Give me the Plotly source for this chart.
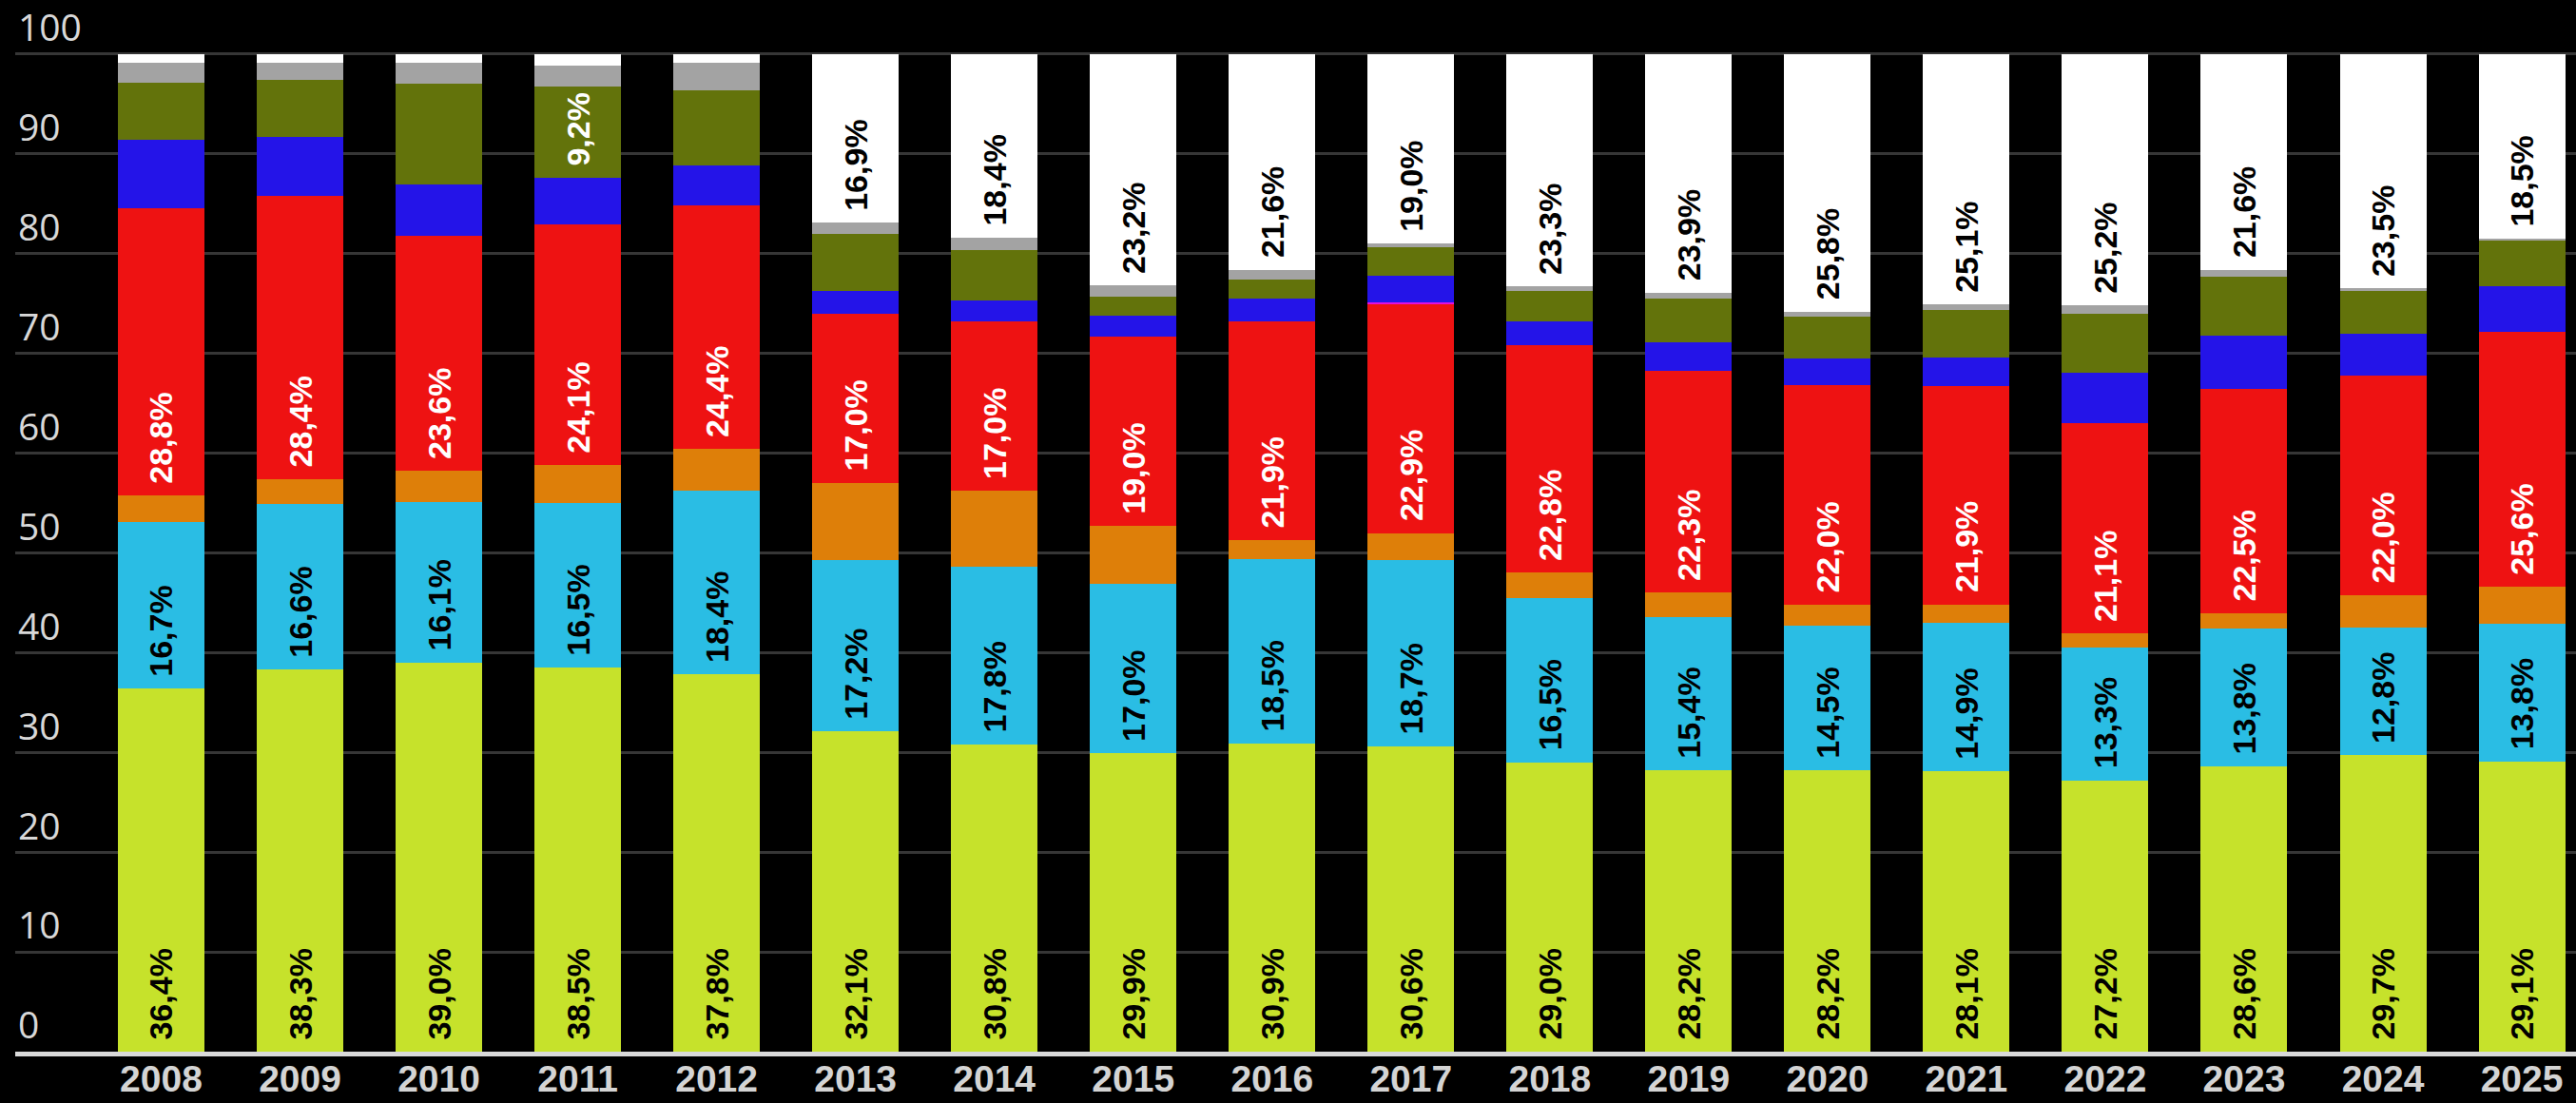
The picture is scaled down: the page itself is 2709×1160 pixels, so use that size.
import plotly.graph_objects as go

years = [str(y) for y in range(2008, 2026)]

yellow = [36.4, 38.3, 39.0, 38.5, 37.8, 32.1, 30.8, 29.9, 30.9, 30.6, 29.0, 28.2, 28.2, 28.1, 27.2, 28.6, 29.7, 29.1]
cyan = [16.7, 16.6, 16.1, 16.5, 18.4, 17.2, 17.8, 17.0, 18.5, 18.7, 16.5, 15.4, 14.5, 14.9, 13.3, 13.8, 12.8, 13.8]
orange = [2.65, 2.5, 3.1, 3.8, 4.2, 7.7, 7.6, 5.8, 1.9, 2.7, 2.5, 2.4, 2.1, 1.85, 1.4, 1.55, 3.25, 3.7]
red = [28.8, 28.4, 23.6, 24.1, 24.4, 17.0, 17.0, 19.0, 21.9, 22.9, 22.8, 22.3, 22.0, 21.9, 21.1, 22.5, 22.0, 25.6]
magenta = [0, 0, 0, 0, 0, 0, 0, 0, 0, 0.2, 0, 0, 0, 0, 0, 0, 0, 0]
blue = [6.85, 5.9, 5.1, 4.7, 4.0, 2.3, 2.1, 2.1, 2.3, 2.65, 2.45, 2.85, 2.65, 2.85, 5.1, 5.3, 4.2, 4.55]
olive = [5.7, 5.7, 10.1, 9.2, 7.6, 5.7, 5.1, 1.9, 1.9, 2.85, 3.05, 4.35, 4.2, 4.75, 5.9, 5.9, 4.35, 4.55]
gray = [2.0, 1.7, 2.1, 2.1, 2.7, 1.1, 1.2, 1.1, 1.0, 0.4, 0.4, 0.6, 0.55, 0.55, 0.8, 0.75, 0.2, 0.2]
white = [0.9, 0.9, 0.9, 1.1, 0.9, 16.9, 18.4, 23.2, 21.6, 19.0, 23.3, 23.9, 25.8, 25.1, 25.2, 21.6, 23.5, 18.5]

# which segments carry a value label
olive_labeled = [y == "2011" for y in years]
white_labeled = [int(y) >= 2013 for y in years]

ytick_vals = [0, 10, 20, 30, 40, 50, 60, 70, 80, 90, 100]


def fmt(v):
    return "\u00a0" + f"{v:.1f}".replace(".", ",") + "%"


def labels(vals, mask=None):
    if mask is None:
        mask = [True] * len(vals)
    return [fmt(v) if m else "" for v, m in zip(vals, mask)]


series = [
    ("yellow", yellow, "#c6e22b", labels(yellow), "#000000"),
    ("cyan", cyan, "#2abde4", labels(cyan), "#000000"),
    ("orange", orange, "#de7f09", None, "#000000"),
    ("red", red, "#ee1212", labels(red), "#ffffff"),
    ("magenta", magenta, "#e010e0", None, "#ffffff"),
    ("blue", blue, "#2414e8", None, "#ffffff"),
    ("olive", olive, "#63730b", labels(olive, olive_labeled), "#ffffff"),
    ("gray", gray, "#a3a3a3", None, "#000000"),
    ("white", white, "#ffffff", labels(white, white_labeled), "#000000"),
]

fig = go.Figure()
for name, vals, color, txt, tcolor in series:
    fig.add_trace(go.Bar(
        x=years, y=vals, name=name,
        marker=dict(color=color, line=dict(width=0)),
        text=txt,
        textposition="inside" if txt else "none",
        insidetextanchor="start",
        textangle=-90,
        insidetextfont=dict(family="Liberation Sans", size=34, color=tcolor, weight="bold"),
        hoverinfo="skip",
    ))

fig.update_layout(
    barmode="stack",
    bargap=0.377,
    width=2709, height=1160,
    margin=dict(l=16, r=0, t=0, b=54, autoexpand=False),
    paper_bgcolor="#000000",
    plot_bgcolor="#000000",
    showlegend=False,
    uniformtext=dict(minsize=8),
)
fig.update_xaxes(
    type="category",
    range=[-1.051, 17.39],
    automargin=False,
    showgrid=False,
    showline=True, linecolor="#d9d9d9", linewidth=5,
    ticks="",
    tickfont=dict(family="Liberation Sans", size=39, color="#d4d4d4", weight="bold"),
    ticklabelstandoff=-10,
)
fig.update_yaxes(
    range=[0, 105.43],
    automargin=False,
    tickvals=ytick_vals,
    showgrid=True, gridcolor="#363636", gridwidth=3,
    zeroline=False,
    showline=False,
    ticks="",
    ticklabelposition="inside top",
    tickfont=dict(family="Open Sans", size=39, color="#d8d8d8"),
)

fig.write_html(
    "out.html",
    config={"displayModeBar": False},
    post_script="document.body.style.margin='0';document.body.style.padding='0';document.body.style.overflow='hidden';",
)
